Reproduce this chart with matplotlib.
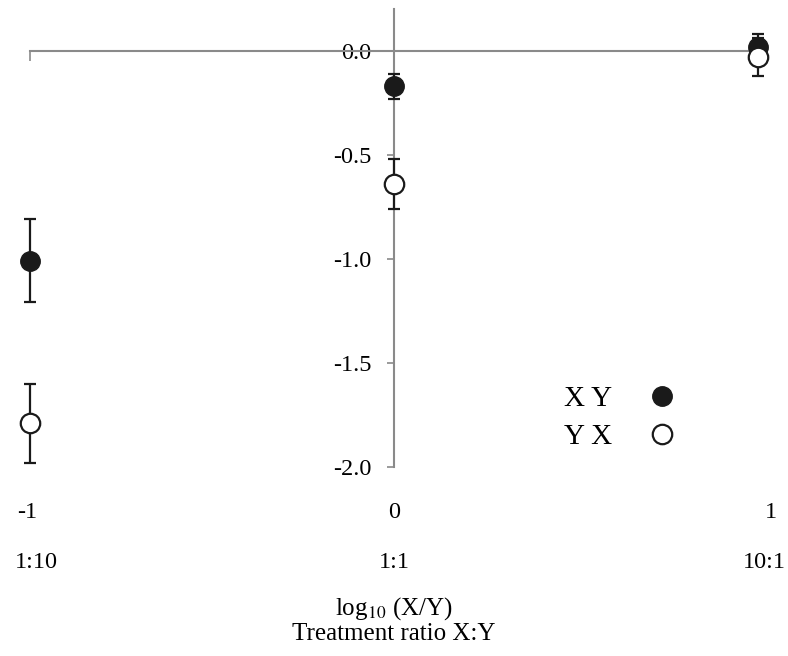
import matplotlib
matplotlib.use("Agg")
import matplotlib.pyplot as plt
import matplotlib.transforms as mtransforms
from matplotlib.lines import Line2D

plt.rcParams['font.family'] = ['Liberation Serif', 'DejaVu Serif']
plt.rcParams['mathtext.fontset'] = 'stix'

# log10(X/Y) treatment positions
ratios = [-1, 0, 1]
ratio_labels = ['1:10', '1:1', '10:1']

# series values and error bars
xy_mean = [-1.01, -0.17, 0.02]
xy_err = [0.20, 0.06, 0.06]
yx_mean = [-1.79, -0.64, -0.03]
yx_err = [0.19, 0.12, 0.09]

y_ticks = [0.0, -0.5, -1.0, -1.5, -2.0]

AXIS_GREY = '#8a8a8a'
INK = '#1a1a1a'


def make_axes():
    fig = plt.figure(figsize=(7.88, 6.56), dpi=100)
    ax = fig.add_axes([0.0385, 0.2886, 0.9239, 0.6973])
    ax.set_xlim(-1, 1)
    ax.set_ylim(-2.0, 0.2)

    for side in ['top', 'right']:
        ax.spines[side].set_visible(False)
    ax.spines['left'].set_position(('data', 0))
    ax.spines['bottom'].set_position(('data', 0))
    for side in ['left', 'bottom']:
        ax.spines[side].set_color(AXIS_GREY)
        ax.spines[side].set_linewidth(1.5)

    ax.set_yticks(y_ticks)
    ax.set_yticklabels([f'{v:.1f}' for v in y_ticks])
    ax.tick_params(axis='y', direction='out', length=5, width=1.2,
                   color=AXIS_GREY, labelsize=17.5, pad=11.5)
    ax.set_xticks(ratios)
    ax.tick_params(axis='x', direction='out', length=7, width=1.2,
                   color=AXIS_GREY, labelbottom=False)
    return fig, ax


def plot_series(ax):
    ax.errorbar(ratios, xy_mean, yerr=xy_err, fmt='o', color=INK,
                ms=14, mfc=INK, mec=INK, ecolor=INK,
                elinewidth=1.6, capsize=4.5, capthick=1.6, clip_on=False, zorder=5)
    ax.errorbar(ratios, yx_mean, yerr=yx_err, fmt='o', color=INK,
                ms=14, mfc='white', mec=INK, mew=1.6, ecolor=INK,
                elinewidth=1.6, capsize=4.5, capthick=1.6, clip_on=False, zorder=6)


def add_labels(fig, ax):
    trans = mtransforms.blended_transform_factory(ax.transData, fig.transFigure)
    # small horizontal nudges (points) so labels sit like the original
    num_shift = [-2, 0, 9]
    ratio_shift = [4, 0, 4]
    for x, lab, dn, dr in zip(ratios, ratio_labels, num_shift, ratio_shift):
        ax.annotate(f'{x:d}', (x, 0.218), xycoords=trans, xytext=(dn, 0),
                    textcoords='offset points', ha='center', va='center', fontsize=17.5)
        ax.annotate(lab, (x, 0.142), xycoords=trans, xytext=(dr, 0),
                    textcoords='offset points', ha='center', va='center', fontsize=17.5)

    fig.text(0.5, 0.073, r'log$_{10}$ (X/Y)', ha='center', va='center', fontsize=18)
    fig.text(0.5, 0.034, 'Treatment ratio X:Y', ha='center', va='center', fontsize=18)

    handles = [
        Line2D([], [], ls='none', marker='o', ms=14, mfc=INK, mec=INK),
        Line2D([], [], ls='none', marker='o', ms=14, mfc='white', mec=INK, mew=1.6),
    ]
    ax.legend(handles, ['X Y', 'Y X'], loc='center', bbox_to_anchor=(0.81, 0.107),
              frameon=False, markerfirst=False, fontsize=21, handlelength=1.0,
              handletextpad=1.2, labelspacing=0.4)


def main():
    fig, ax = make_axes()
    plot_series(ax)
    add_labels(fig, ax)
    fig.savefig('out.png', dpi=100)


if __name__ == '__main__':
    main()
